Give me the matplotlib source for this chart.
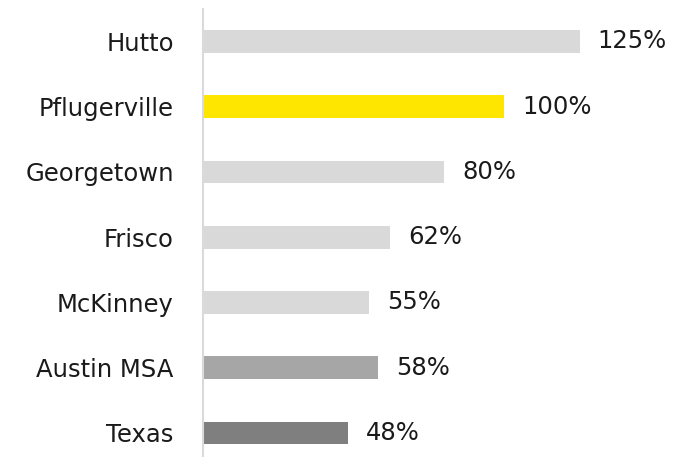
import matplotlib
matplotlib.use("Agg")
import matplotlib.pyplot as plt
from matplotlib.transforms import ScaledTranslation

categories = ["Hutto", "Pflugerville", "Georgetown", "Frisco", "McKinney", "Austin MSA", "Texas"]
values = [125, 100, 80, 62, 55, 58, 48]
colors = ["#d9d9d9", "#ffe600", "#d9d9d9", "#d9d9d9", "#d9d9d9", "#a6a6a6", "#7f7f7f"]

fig = plt.figure(figsize=(6.85, 4.57), dpi=100)
ax = fig.add_axes([203/685, 0.0, 422/685, 1 - 9/457])
ypos = list(range(len(categories)))
ax.barh(ypos, values, height=0.35, color=colors)
ax.set_xlim(0, 140)
ax.set_ylim(6.368, -0.498)

for s in ["top", "right", "bottom"]:
    ax.spines[s].set_visible(False)
ax.spines["left"].set_color("#d9d9de")
ax.spines["left"].set_linewidth(1.5)
ax.set_xticks([])
ax.set_yticks(ypos)
ax.set_yticklabels(categories, fontsize=17.5, color="#1a1a1a")
ax.tick_params(axis="y", length=0, pad=21)

off = ScaledTranslation(18/100, 0, fig.dpi_scale_trans)
for y, v in zip(ypos, values):
    ax.text(v, y, f"{v}%", va="center", ha="left", fontsize=17.5, color="#1a1a1a",
            transform=ax.transData + off, clip_on=False)

fig.savefig("out.png", dpi=100)
